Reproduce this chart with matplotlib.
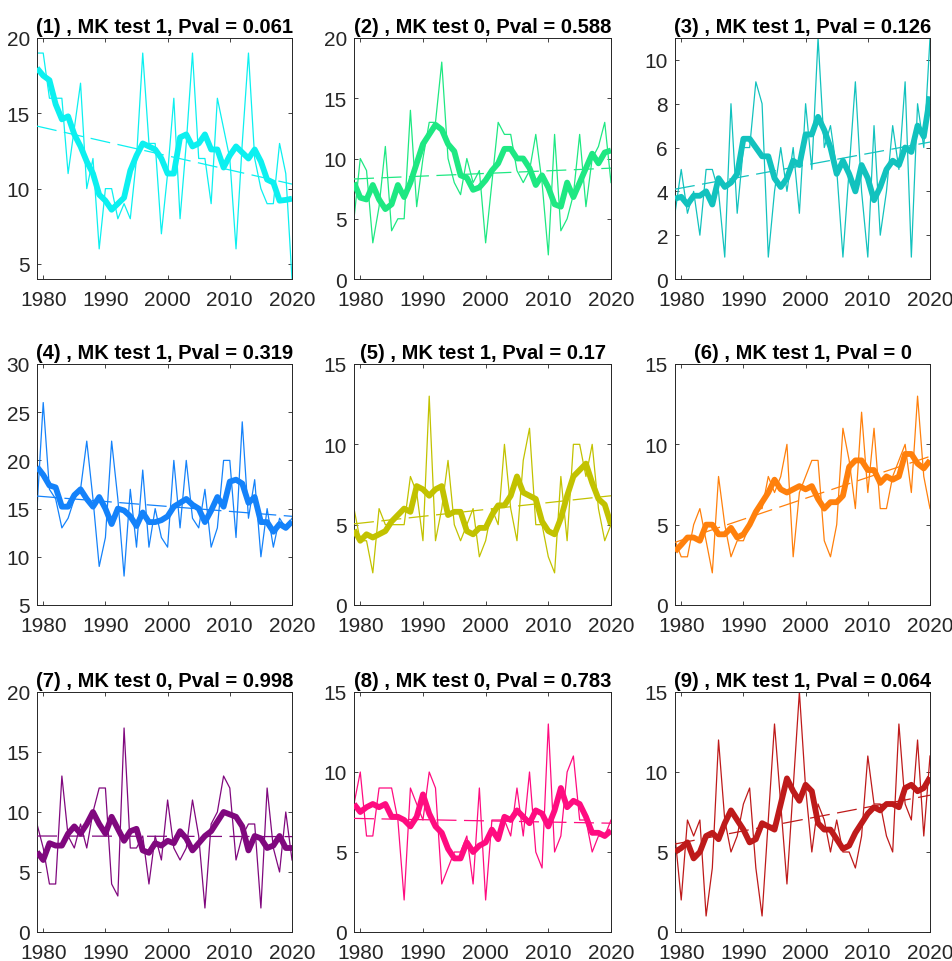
import numpy as np
import pandas as pd
import matplotlib
matplotlib.use("Agg")
import matplotlib.pyplot as plt

plt.rcParams['font.family'] = ['Liberation Sans', 'DejaVu Sans']

# ---------------- data ----------------
years = list(range(1979, 2021))

series_1 = [19,19,16,16,16,11,14,17,10,12,6,10,10,8,9,8,12,19,13,13,7,11,16,8,13,19,12,12,9,16,14,12,6,13,19,12,10,9,9,13,11,4]
series_2 = [5,10,9,3,6,11,4,5,5,14,6,10,13,13,18,10,8,7,10,8,9,3,8,13,12,12,9,8,9,12,8,2,12,4,5,7,12,6,10,11,13,8]
series_3 = [3,5,3,4,2,5,5,4,1,8,3,6,6,9,8,1,4,6,4,6,3,8,5,11,6,7,5,1,5,9,4,1,7,2,4,7,5,9,1,8,6,11]
series_4 = [15,26,17,16,13,14,16,17,22,16,9,12,22,16,8,17,11,19,11,15,12,11,20,13,20,14,13,17,11,13,20,20,12,24,14,18,10,15,11,14,13,14]
series_5 = [6,4,4,2,6,5,5,5,5,8,7,4,13,4,6,9,5,4,5,6,3,4,6,5,10,6,4,9,11,5,5,3,2,8,4,10,10,8,10,6,4,5]
series_6 = [4,3,3,5,6,4,2,8,5,3,4,4,5,6,6,8,7,8,10,3,7,8,9,9,4,3,5,11,9,6,12,7,11,6,6,8,9,10,7,13,8,6]
series_7 = [9,7,4,4,13,8,7,9,7,10,12,12,4,3,17,7,7,8,4,8,6,11,7,6,7,11,8,2,9,10,13,12,6,8,9,9,2,12,7,5,10,6]
series_8 = [8,10,6,6,9,9,9,7,2,9,8,7,10,9,3,4,5,5,6,3,9,2,7,7,7,6,9,6,10,5,4,13,5,6,10,11,7,7,5,6,6,7]
series_9 = [6,2,7,6,7,1,4,12,7,5,6,8,9,4,1,7,13,8,3,9,15,9,5,8,7,5,7,5,5,4,6,11,8,8,6,5,13,8,7,12,6,11]

# trend line values at first and last year
trend_start = [14.15, 8.3, 4.1, 16.3, 5.05, 3.9, 8.0, 7.1, 5.5]
trend_end = [10.3, 9.2, 6.25, 14.2, 6.8, 9.25, 7.95, 6.8, 8.55]

titles = ["(1) , MK test 1, Pval = 0.061",
          "(2) , MK test 0, Pval = 0.588",
          "(3) , MK test 1, Pval = 0.126",
          "(4) , MK test 1, Pval = 0.319",
          "(5) , MK test 1, Pval = 0.17",
          "(6) , MK test 1, Pval = 0",
          "(7) , MK test 0, Pval = 0.998",
          "(8) , MK test 0, Pval = 0.783",
          "(9) , MK test 1, Pval = 0.064"]

y_limits = [(4, 20), (0, 20), (0, 11), (5, 30), (0, 15), (0, 15), (0, 20), (0, 15), (0, 15)]
y_steps = [5, 5, 2, 5, 5, 5, 5, 5, 5]
x_ticks = [1980, 1990, 2000, 2010, 2020]

all_series = [series_1, series_2, series_3, series_4, series_5,
              series_6, series_7, series_8, series_9]

# ---------------- styles ----------------
colors = ['#0CF0F0', '#1EE882', '#12C2BE', '#1482FA', '#C2C200',
          '#FF800C', '#80087E', '#FF0C80', '#BE1A1A']

W, H = 952, 962
cols_px = [(37, 292), (354, 611), (675, 930)]
rows_px = [(39, 280), (365, 606), (693, 933)]

fig = plt.figure(figsize=(W / 100, H / 100), dpi=100)
fig.patch.set_facecolor('white')

axc = '#262626'
for i in range(9):
    r, c = divmod(i, 3)
    l, rr = cols_px[c]
    t, b = rows_px[r]
    ax = fig.add_axes([l / W, 1 - b / H, (rr - l) / W, (b - t) / H])
    vals = pd.Series(all_series[i], index=years, dtype=float)
    smooth = vals.rolling(5, center=True, min_periods=1).mean()
    col = colors[i]
    ax.plot(years, vals.values, color=col, lw=0.9, zorder=2)
    ax.plot([years[0], years[-1]], [trend_start[i], trend_end[i]], color=col,
            lw=0.9, linestyle=(0, (16, 6)), zorder=3)
    ax.plot(years, smooth.values, color=col, lw=4.2, solid_joinstyle='round',
            solid_capstyle='butt', zorder=4)
    ax.set_xlim(years[0], years[-1])
    ax.set_ylim(*y_limits[i])
    ax.set_xticks(x_ticks)
    lo, hi = y_limits[i]
    first = int(np.ceil(lo / y_steps[i]) * y_steps[i])
    ax.set_yticks(np.arange(first, hi + 0.01, y_steps[i]))
    ax.tick_params(direction='in', top=True, right=True, length=3, width=0.6,
                   color=axc, labelcolor=axc, labelsize=15)
    ax.tick_params(axis='x', pad=8)
    ax.tick_params(axis='y', pad=5)
    for s in ax.spines.values():
        s.set_color(axc)
        s.set_linewidth(0.7)
    ax.set_title(titles[i], fontsize=14.5, fontweight='bold', color='black', pad=4)

fig.savefig('out.png', dpi=100, facecolor='white')
